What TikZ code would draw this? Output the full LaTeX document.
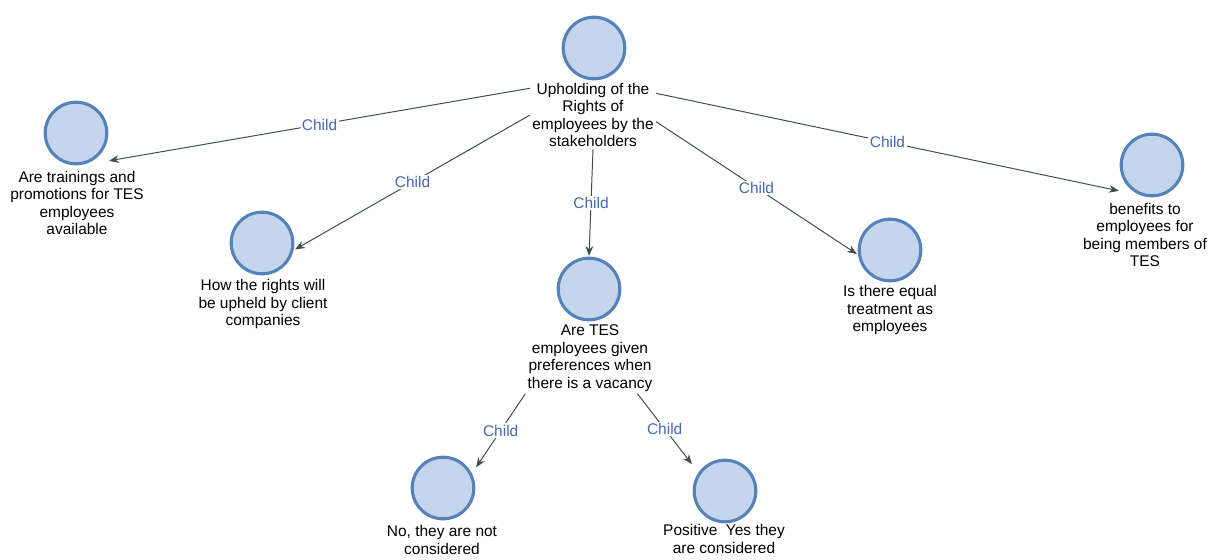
\documentclass[tikz,border=0pt]{standalone}
\usepackage{fontspec}
\setmainfont{Liberation Sans}
\usetikzlibrary{arrows.meta}
\definecolor{ballRim}{RGB}{84,130,185}
\definecolor{ballFill}{RGB}{197,214,236}
\definecolor{edgeGrey}{RGB}{62,78,76}
\definecolor{childBlue}{RGB}{72,104,178}

\tikzset{
  ball/.style={rectangle, minimum size=1.64cm, inner sep=0pt,
    path picture={\draw[ballRim, fill=ballFill, line width=2.2pt]
      (path picture bounding box.center) circle (0.77cm);}},
  caption/.style={align=center, inner sep=1.5pt, font=\fontsize{11}{12.5}\selectfont},
  link/.style={edgeGrey, line width=0.7pt, -{Stealth[length=7pt,width=5.5pt]}},
  childtag/.style={midway, fill=white, inner sep=1pt, text=childBlue,
    font=\fontsize{11}{12.5}\selectfont}
}

\begin{document}
\begin{tikzpicture}[x=0.025cm, y=-0.025cm]
\useasboundingbox (0,0) rectangle (1220,559);

% Root
\node[ball] (root) at (594,48) {};
\node[caption] (rootlbl) at (593,115) {Upholding of the\\Rights of\\employees by the\\stakeholders};

% First level
\node[ball] (train) at (76,133) {};
\node[caption] (trainlbl) at (77,203) {Are trainings and\\promotions for TES\\employees\\available};
\node[ball] (client) at (262,243) {};
\node[caption] (clientlbl) at (263,304) {How the rights will\\be upheld by client\\companies};
\node[ball] (pref) at (589,289) {};
\node[caption] (preflbl) at (590,358) {Are TES\\employees given\\preferences when\\there is a vacancy};
\node[ball] (equal) at (890,250) {};
\node[caption] (equallbl) at (890,310) {Is there equal\\treatment as\\employees};
\node[ball] (benefit) at (1152,165) {};
\node[caption] (benefitlbl) at (1145,235) {benefits to\\employees for\\being members of\\TES};

% Second level
\node[ball] (notcons) at (443,488) {};
\node[caption] (notconslbl) at (442,540) {No, they are not\\considered};
\node[ball] (yescons) at (725,491) {};
\node[caption] (yesconslbl) at (724,539) {Positive\ \ Yes they\\are considered};

% Links
\draw[link] (rootlbl.157) -- node[childtag] {Child} (train.-40);
\draw[link] (rootlbl.180) -- node[childtag] {Child} (client.-11);
\draw[link] (rootlbl.270) -- node[childtag] {Child} (pref.90);
\draw[link] (rootlbl.354) -- node[childtag] {Child} (equal.187);
\draw[link] (rootlbl.19) -- node[childtag] {Child} (benefit.218);
\draw[link] (preflbl.south west) -- node[childtag] {Child} (notcons.32);
\draw[link] (preflbl.-37) -- node[childtag] {Child} (yescons.141);
\end{tikzpicture}
\end{document}
